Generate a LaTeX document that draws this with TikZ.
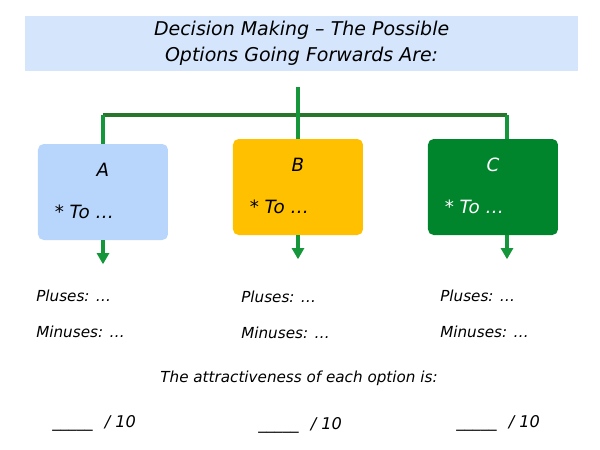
\documentclass[tikz,border=0pt]{standalone}
\usepackage{fontspec}
\setmainfont{DejaVu Sans}
\usepackage{xcolor}
\usetikzlibrary{arrows.meta,positioning,calc}
\definecolor{bannerbg}{RGB}{213, 230, 252}
\definecolor{optabg}{RGB}{184, 213, 251}
\definecolor{optbbg}{RGB}{255, 192, 0}
\definecolor{optcbg}{RGB}{0, 133, 45}
\definecolor{treegreen}{RGB}{22, 150, 58}
\definecolor{bargreen}{RGB}{40, 118, 44}

\begin{document}
\begin{tikzpicture}[
    >={Triangle[width=0.3cm, length=0.28cm]},
    banner/.style={fill=bannerbg, minimum width=13.825cm, minimum height=1.375cm, align=center, font=\fontsize{13.5}{18.5}\selectfont\itshape, inner sep=0pt},
    optbox/.style={fill=#1, rounded corners=4pt, minimum width=3.25cm, minimum height=2.4cm, inner sep=0pt},
    optletter/.style={font=\fontsize{13}{15}\selectfont\itshape, inner sep=0pt},
    optitem/.style={font=\fontsize{13}{15}\selectfont\itshape, inner sep=0pt, anchor=west},
    note/.style={font=\fontsize{10.8}{13}\selectfont\itshape, inner sep=0pt, anchor=west},
    score/.style={font=\fontsize{11.5}{13}\selectfont\itshape, inner sep=0pt, anchor=west},
    branch/.style={treegreen, line width=2.6pt},
    trunk/.style={bargreen, line width=2.6pt},
    outflow/.style={->, treegreen, line width=2.6pt}
]
\useasboundingbox (-7.5,-5.625) rectangle (7.5,5.625);

% Title banner
\node[banner] (title) at (0.04, 4.54) {Decision Making -- The Possible\\Options Going Forwards Are:};

% ==================== OPTION BOXES ====================
\node[optbox=optabg] (a) at (-4.925, 0.825) {};
\node[optbox=optbbg] (b) at (-0.05, 0.95) {};
\node[optbox=optcbg] (c) at (4.825, 0.95) {};

\node[optletter] (a-lbl) at ([yshift=-0.65cm]a.north) {A};
\node[optletter] (b-lbl) at ([yshift=-0.65cm]b.north) {B};
\node[optletter, text=white] (c-lbl) at ([yshift=-0.65cm]c.north) {C};

\node[optitem] (a-item) at ([xshift=0.42cm, yshift=-1.7cm]a.north west) {* To …};
\node[optitem] (b-item) at ([xshift=0.42cm, yshift=-1.7cm]b.north west) {* To …};
\node[optitem, text=white] (c-item) at ([xshift=0.42cm, yshift=-1.7cm]c.north west) {* To …};

% ==================== TREE CONNECTORS ====================
\coordinate (root) at (-0.05, 3.45);
\coordinate (hub) at (-0.05, 2.75);
\coordinate (c-in) at ([xshift=0.35cm]c.north);
\coordinate (c-out) at ([xshift=0.35cm]c.south);

\draw[trunk] (a.north |- hub) -- (c-in |- hub);
\draw[branch] (a.north |- hub) -- (a.north);
\draw[branch] (c-in |- hub) -- (c-in);
\draw[branch] (root) -- (b.north);

% Arrows out of each option
\coordinate[below=0.6cm of a.south] (a-end);
\coordinate[below=0.6cm of b.south] (b-end);
\coordinate[below=0.6cm of c-out] (c-end);
\draw[outflow] (a.south) -- (a-end);
\draw[outflow] (b.south) -- (b-end);
\draw[outflow] (c-out) -- (c-end);

% ==================== PROS AND CONS ====================
\node[note] (a-plus) at (-6.6, -1.775) {Pluses: …};
\node[note] (b-plus) at (-1.475, -1.8) {Pluses: …};
\node[note] (c-plus) at (3.5, -1.775) {Pluses: …};

\node[note] (a-minus) at (-6.6, -2.675) {Minuses: …};
\node[note] (b-minus) at (-1.475, -2.7) {Minuses: …};
\node[note] (c-minus) at (3.5, -2.675) {Minuses: …};

\node[note, anchor=center] (prompt) at (-0.025, -3.825) {The attractiveness of each option is:};

% Scores
\node[score] (a-score) at (-6.2, -4.95) {\_\_\_\_\_\hspace{0.75em}/ 10};
\node[score] (b-score) at (-1.05, -5.0) {\_\_\_\_\_\hspace{0.75em}/ 10};
\node[score] (c-score) at (3.9, -4.95) {\_\_\_\_\_\hspace{0.75em}/ 10};

\end{tikzpicture}
\end{document}
